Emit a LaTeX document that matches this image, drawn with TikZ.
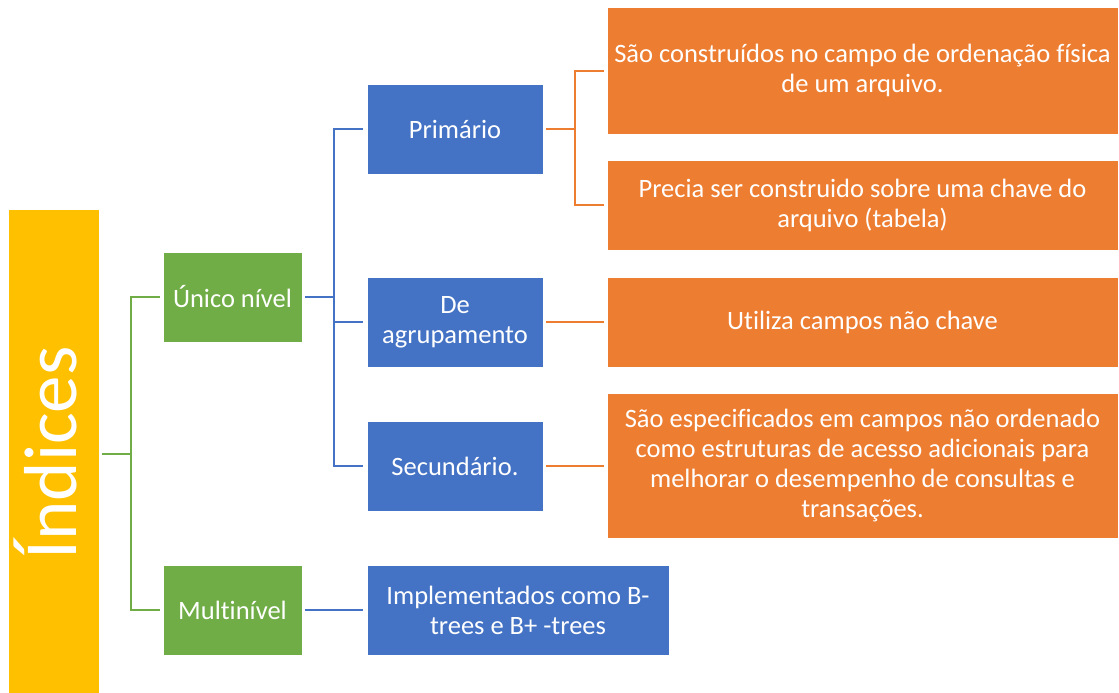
\documentclass[tikz,border=0pt]{standalone}
\usepackage{fontspec}
\setmainfont{Carlito}[Ligatures={NoCommon}]
\definecolor{cyel}{HTML}{FFC000}
\definecolor{cgrn}{HTML}{70AD47}
\definecolor{cblu}{HTML}{4472C4}
\definecolor{corg}{HTML}{ED7D31}
\begin{document}
\begin{tikzpicture}[x=1pt,y=-1pt,
  box/.style={rectangle,draw=white,line width=0.6pt,text=white,align=center,inner sep=0pt,
    font=\fontsize{26.5}{30}\selectfont},
  gbox/.style={box,fill=cgrn,minimum width=139pt,minimum height=90pt},
  bbox/.style={box,fill=cblu,minimum width=176pt,minimum height=90pt},
  obox/.style={box,fill=corg,minimum width=511pt},
  gl/.style={draw=cgrn,line width=2.2pt},
  bl/.style={draw=cblu,line width=2.2pt},
  ol/.style={draw=corg,line width=2.2pt}]
\useasboundingbox (0,0) rectangle (1119,693);
% root
\node[rectangle,fill=cyel,minimum width=90pt,minimum height=490pt,inner sep=0pt] (ind) at (54,455) {};
\node[rotate=90,text=white,inner sep=0pt,font=\fontsize{75}{80}\selectfont] (indt) at (45,453) {Índices};
% level 1
\node[gbox] (un) at (232.5,297) {Único nível};
\node[gbox] (mn) at (232.5,610) {Multinível};
% level 2
\node[bbox] (pr) at (455,129) {Primário};
\node[bbox] (ag) at (455,322) {De\\agrupamento};
\node[bbox] (sc) at (455,466) {Secundário.};
\node[box,fill=cblu,minimum width=302pt,minimum height=90pt] (im) at (518,610) {Implementados como B-\\trees e B+ -trees};
% level 3
\node[obox,minimum height=127pt] (o1) at (862.5,70.5) {São construídos no campo de ordenação física\\de um arquivo.};
\node[obox,minimum height=90pt] (o2) at (862.5,205) {Precia ser construido sobre uma chave do\\arquivo (tabela)};
\node[obox,minimum height=90pt] (o3) at (862.5,322) {Utiliza campos não chave};
\node[obox,minimum height=145pt] (o4) at (862.5,465.5) {São especificados em campos não ordenado\\como estruturas de acesso adicionais para\\melhorar o desempenho de consultas e\\transações.};
% coordinates for junctions
\coordinate (gj) at (131,454);
\coordinate (bj) at (334,297);
\coordinate (oj) at (575,129);
% green connectors
\draw[gl] ([xshift=3pt]ind.east |- gj) -- (gj);
\draw[gl] ([xshift=-3pt]un.west) -| (gj) |- ([xshift=-3pt]mn.west);
% blue connectors
\draw[bl] ([xshift=3pt]un.east) -- (bj);
\draw[bl] ([xshift=-4pt]pr.west) -| (bj) |- ([xshift=-4pt]sc.west);
\draw[bl] (bj |- ag.west) -- ([xshift=-4pt]ag.west);
\draw[bl] ([xshift=3pt]mn.east) -- ([xshift=-4pt]im.west);
% orange connectors
\draw[ol] ([xshift=3pt]pr.east) -- (oj);
\draw[ol] ([xshift=-3pt]o1.west |- 0,71) -| (oj) |- ([xshift=-3pt]o2.west);
\draw[ol] ([xshift=3pt]ag.east) -- ([xshift=-3pt]o3.west);
\draw[ol] ([xshift=3pt]sc.east) -- ([xshift=-3pt]o4.west |- sc.east);
\end{tikzpicture}
\end{document}
